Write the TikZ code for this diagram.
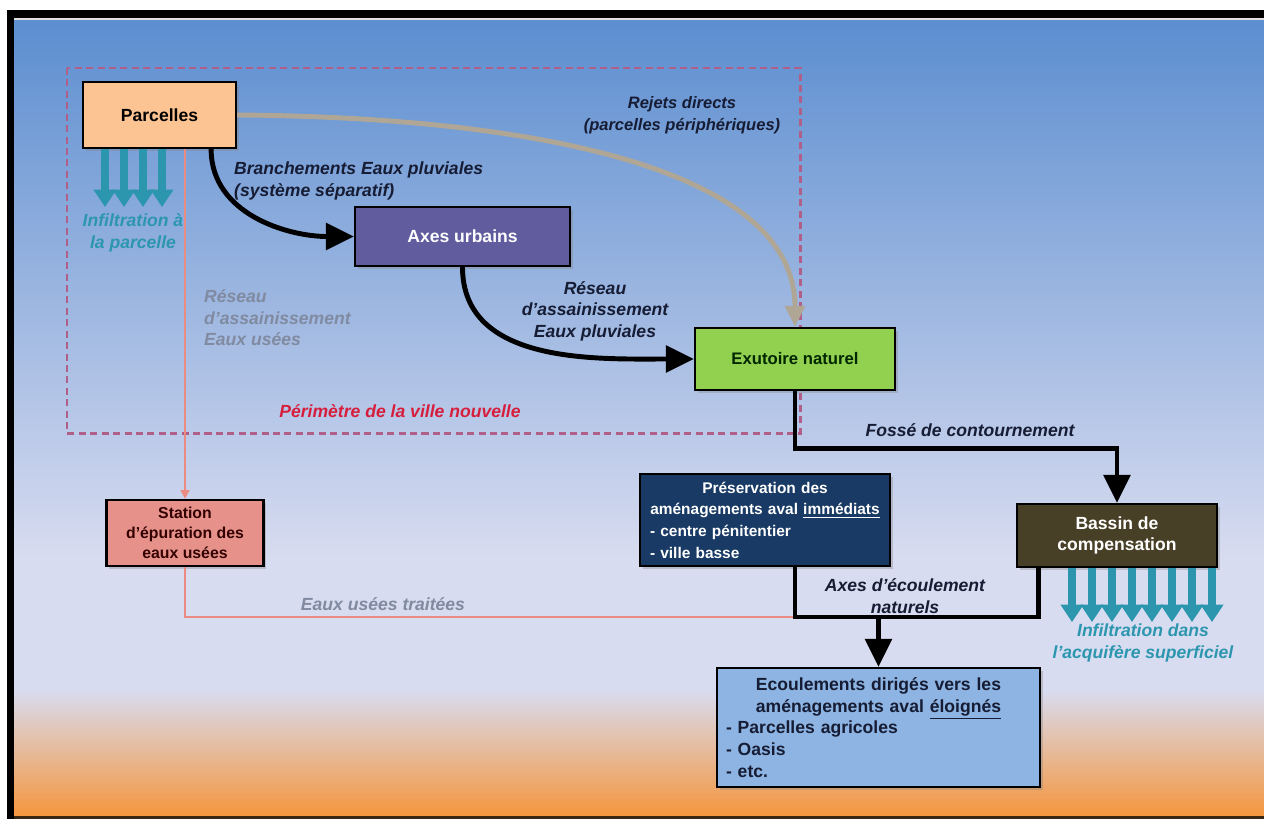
\documentclass[tikz,border=0pt]{standalone}
\usepackage{fontspec}
\setmainfont{Liberation Sans}
\usetikzlibrary{arrows.meta,calc,shadows}

\definecolor{bgtop}{RGB}{92,142,208}
\definecolor{bgmid}{RGB}{216,220,240}
\definecolor{bgbot}{RGB}{245,150,62}
\definecolor{peach}{RGB}{252,196,146}
\definecolor{urbain}{RGB}{96,92,158}
\definecolor{vert}{RGB}{146,208,80}
\definecolor{saumon}{RGB}{230,146,138}
\definecolor{marine}{RGB}{24,58,100}
\definecolor{olive}{RGB}{72,64,38}
\definecolor{ciel}{RGB}{141,180,226}
\definecolor{infilc}{RGB}{44,150,175}
\definecolor{eurose}{RGB}{234,140,130}
\definecolor{rejetc}{RGB}{176,166,150}
\definecolor{perim}{RGB}{176,96,136}
\definecolor{rouge}{RGB}{214,30,60}
\definecolor{lbldark}{RGB}{22,28,52}
\definecolor{lblgray}{RGB}{128,138,160}

\begin{document}
\begin{tikzpicture}[x=0.02cm, y=-0.02cm,
	every node/.style={font=\fontsize{10}{12.3}\selectfont\bfseries},
	box/.style={draw=black, line width=1.3pt, align=center, inner sep=0pt, drop shadow={shadow xshift=1.5pt, shadow yshift=-1.5pt, opacity=0.35}},
	lbl/.style={text=lbldark, font=\fontsize{10}{12.3}\selectfont\bfseries\itshape, align=center},
	flow/.style={draw=black, line width=2.8pt},
	arr/.style={-{Triangle[length=16pt, width=15pt]}},
	rejet/.style={draw=rejetc, line width=2.8pt, -{Triangle[length=12pt, width=11pt]}},
	eu/.style={draw=eurose, line width=1.1pt},
	infil/.style={draw=infilc, line width=4.5pt, -{Triangle[length=10pt, width=12.5pt]}}]
	\useasboundingbox (0,0) rectangle (1264,819);
	% screen frame and background
	\fill[white] (0,0) rectangle (1264,819);
	\shade[top color=bgtop, bottom color=bgmid] (14,20) rectangle (1264,560);
	\fill[bgmid] (14,560) rectangle (1264,690);
	\shade[top color=bgmid, bottom color=bgbot] (14,690) rectangle (1264,816);
	\fill[black] (7,10) rectangle (1264,18);
	\fill[black] (7,10) rectangle (14,819);
	\fill[black!70!brown] (14,816) rectangle (1264,819);
	\fill[gray!25] (14,18) rectangle (1264,20);
	\draw[perim, line width=1.7pt, dash pattern=on 4pt off 2.5pt] (67,68) rectangle (800,433);

	\node[box, fill=peach, minimum width=3.06cm, minimum height=1.32cm] (parcelles) at (159.5,115) {Parcelles};
	\node[box, fill=urbain, text=white, minimum width=4.3cm, minimum height=1.18cm] (axes) at (462.5,236.5) {Axes urbains};
	\node[box, fill=vert, text=black!85!green, minimum width=4cm, minimum height=1.24cm, font=\fontsize{9.5}{12}\selectfont\bfseries] (exutoire) at (795,359) {Exutoire naturel};
	\node[box, fill=saumon, text=black!80!red, minimum width=3.14cm, minimum height=1.32cm, font=\fontsize{9}{11.5}\selectfont\bfseries] (station) at (185,533) {Station\\d'épuration des\\eaux usées};
	\node[box, fill=marine, text=white, text width=4.6cm, inner xsep=0.2cm, align=left, minimum height=1.84cm, font=\fontsize{8.8}{12.3}\selectfont\bfseries] (preserv) at (765,520) {\makebox[\linewidth]{Préservation des}\\\makebox[\linewidth]{aménagements aval \underline{immédiats}}\\- centre pénitentier\\- ville basse};
	\node[box, fill=olive, text=white, minimum width=4cm, minimum height=1.26cm] (bassin) at (1117,535.5) {Bassin de\\compensation};
	\node[box, fill=ciel, text=lbldark, text width=6.1cm, inner xsep=0.18cm, align=left, minimum height=2.38cm] (ecoul) at (878.5,727.5) {\makebox[\linewidth]{Ecoulements dirigés vers les}\\\makebox[\linewidth]{aménagements aval \underline{éloignés}}\\- Parcelles agricoles\\- Oasis\\- etc.};

	\node[lbl, font=\fontsize{9.4}{12.3}\selectfont\bfseries\itshape] (lrejet) at (682,115) {Rejets directs\\(parcelles périphériques)};
	\node[lbl, align=left, anchor=west] (lbranch) at (228,181) {Branchements Eaux pluviales\\(système séparatif)};
	\node[lbl] (lreseaup) at (595,311) {Réseau\\d'assainissement\\Eaux pluviales};
	\node[lbl, text=lblgray, align=left, anchor=west] (lreseauu) at (198,318) {Réseau\\d'assainissement\\Eaux usées};
	\node[lbl, text=rouge] (lperim) at (400,411) {Périmètre de la ville nouvelle};
	\node[lbl] (lfosse) at (970,430) {Fossé de contournement};
	\node[lbl, text=lblgray] (ltraite) at (383,604) {Eaux usées traitées};
	\node[lbl] (laxes) at (905,596) {Axes d'écoulement\\naturels};
	\node[lbl, text=infilc] (linfp) at (133,233) {Infiltration à\\la parcelle};
	\node[lbl, text=infilc] (linfb) at (1143,643) {Infiltration dans\\l'acquifère superficiel};

	\foreach \x in {105,124,143,162}
		\draw[infil] (parcelles.south -| \x,0) -- ++(0,58);
	\foreach \x in {1072,1092,...,1212}
		\draw[infil] (bassin.south -| \x,0) -- ++(0,54);

	\draw[eu, -{Triangle[length=5pt, width=5pt]}] (station.north |- parcelles.south) -- (station.north);
	\draw[rejet] (parcelles.east) .. controls +(290,2) and +(0,-160) .. (exutoire.north);
	\draw[flow, arr] ($(parcelles.south east)+(-26,0)$) to[out=-90, in=180] (axes.west);
	\draw[flow, arr] (axes.south) to[out=-90, in=180] (exutoire.west);
	\draw[flow, arr] (exutoire.south) -- ++(0,57) -| (bassin.north);

	\coordinate (jn) at (ecoul.north |- 0,617);
	\coordinate (bs) at ($(bassin.south west)+(23,0)$);
	\draw[eu] (station.south) |- (jn -| exutoire.south);
	\draw[flow] (preserv.south -| exutoire.south) |- (bs |- jn) -- (bs);
	\draw[flow, arr] (jn) -- (ecoul.north);
\end{tikzpicture}
\end{document}
